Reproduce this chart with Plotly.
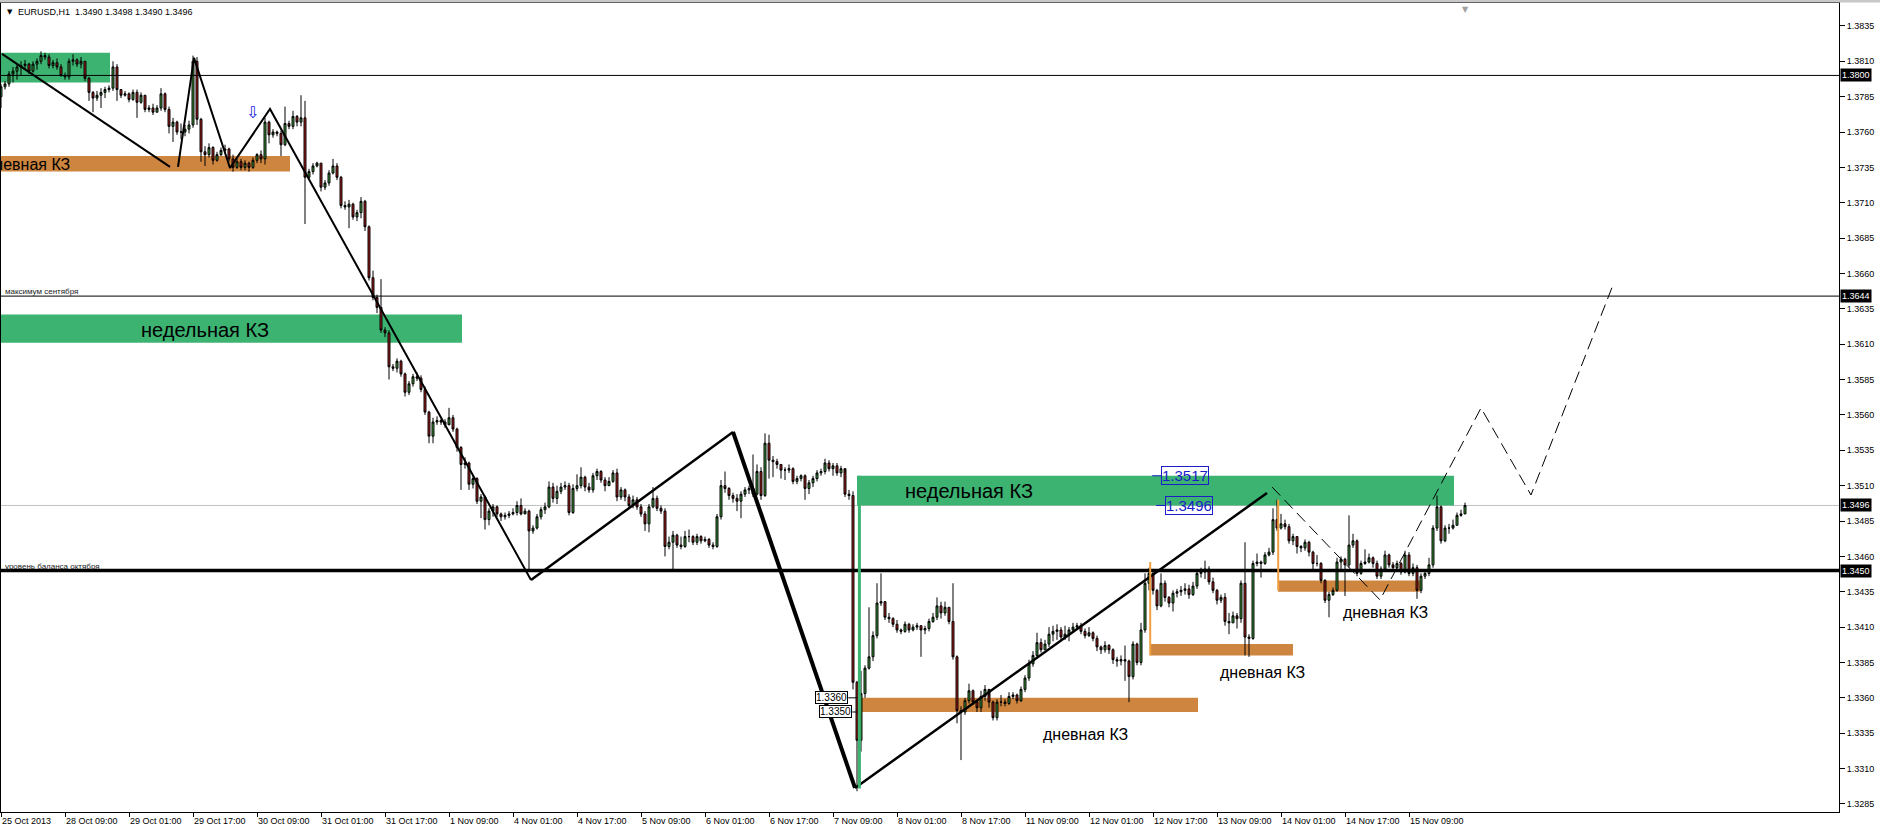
import plotly.graph_objects as go

# ---------------- data (prices in pips, 1 pip = 0.0001) ----------------
first_open = 13785
closes = [
13792,13794,13801,13803,13806,13807,13808,13803,13808,13810,13814,13813,13807,13809,13806,13800,
13799,13810,13811,13808,13810,13798,13788,13784,13786,13788,13790,13791,13806,13790,13786,13787,
13783,13788,13781,13786,13776,13777,13774,13777,13787,13776,13764,13767,13760,13760,13762,13765,
13810,13769,13746,13744,13749,13740,13744,13747,13748,13741,13735,13739,13735,13738,13735,13740,
13744,13741,13767,13758,13760,13759,13751,13766,13764,13771,13767,13770,13728,13732,13736,13738,
13721,13724,13731,13736,13728,13708,13707,13709,13700,13703,13711,13693,13657,13643,13636,13620,
13618,13594,13593,13598,13589,13576,13582,13587,13586,13578,13562,13545,13555,13556,13555,13553,
13558,13550,13537,13525,13526,13511,13515,13499,13502,13486,13492,13495,13490,13488,13489,13490,
13491,13496,13490,13492,13478,13480,13488,13493,13495,13509,13501,13506,13509,13510,13491,13508,
13510,13516,13509,13507,13517,13520,13514,13510,13513,13519,13502,13507,13502,13496,13500,13495,
13490,13483,13495,13501,13494,13492,13467,13470,13475,13468,13467,13474,13474,13470,13474,13471,
13472,13468,13467,13488,13510,13508,13503,13501,13499,13504,13507,13508,13504,13520,13503,13540,
13528,13527,13525,13521,13521,13522,13513,13515,13517,13508,13512,13515,13519,13520,13526,13522,
13524,13519,13522,13504,13503,13371,13330,13363,13381,13389,13404,13427,13428,13417,13416,13412,
13408,13407,13412,13408,13410,13411,13408,13409,13414,13417,13425,13420,13424,13414,13389,13351,
13350,13358,13365,13357,13353,13361,13366,13357,13346,13357,13357,13356,13361,13362,13358,13366,
13374,13384,13390,13399,13394,13398,13405,13407,13408,13403,13405,13408,13410,13411,13407,13404,
13406,13402,13396,13394,13397,13394,13387,13386,13387,13386,13375,13398,13385,13408,13441,13448,
13436,13425,13441,13431,13427,13434,13435,13436,13437,13433,13439,13448,13449,13451,13442,13436,
13429,13431,13414,13413,13418,13416,13441,13403,13402,13455,13456,13455,13461,13463,13486,13480,
13483,13481,13471,13474,13467,13466,13470,13463,13455,13455,13443,13429,13433,13436,13456,13458,
13454,13468,13471,13448,13455,13456,13459,13455,13446,13451,13461,13454,13452,13455,13449,13461,
13448,13452,13436,13446,13448,13454,13480,13495,13471,13480,13480,13482,13489,13490,13496]
highs = [
13794,13796,13803,13806,13808,13810,13811,13809,13810,13812,13817,13816,13815,13811,13812,13808,
13802,13812,13815,13812,13813,13810,13799,13789,13789,13791,13792,13793,13810,13808,13790,13789,
13788,13790,13790,13788,13786,13779,13780,13779,13791,13788,13778,13770,13768,13766,13765,13768,
13814,13813,13770,13750,13752,13750,13746,13749,13751,13749,13744,13741,13741,13740,13739,13742,
13745,13747,13770,13768,13762,13761,13761,13778,13768,13775,13772,13786,13782,13734,13738,13739,
13738,13726,13733,13741,13738,13729,13711,13712,13710,13705,13714,13712,13694,13662,13645,13656,
13622,13620,13596,13600,13599,13590,13584,13589,13590,13588,13580,13563,13558,13559,13557,13557,
13565,13560,13551,13538,13530,13527,13517,13516,13504,13503,13494,13497,13496,13491,13491,13492,
13494,13499,13501,13494,13493,13482,13490,13495,13498,13513,13512,13510,13512,13513,13512,13511,
13518,13523,13517,13512,13519,13522,13521,13516,13516,13521,13522,13509,13508,13504,13503,13502,
13497,13492,13497,13509,13503,13496,13494,13474,13478,13476,13474,13478,13479,13475,13476,13475,
13474,13473,13470,13490,13514,13520,13509,13505,13504,13506,13509,13510,13532,13525,13523,13547,
13546,13531,13529,13525,13523,13525,13523,13517,13518,13518,13514,13517,13521,13522,13529,13528,
13526,13526,13524,13519,13507,13506,13372,13379,13383,13424,13407,13441,13448,13428,13420,13417,
13415,13409,13414,13413,13412,13413,13411,13411,13416,13420,13431,13428,13428,13424,13441,13390,
13354,13360,13370,13366,13358,13365,13369,13361,13358,13359,13362,13359,13364,13364,13363,13368,
13376,13387,13393,13406,13402,13401,13410,13411,13412,13410,13411,13410,13413,13413,13413,13409,
13410,13407,13404,13397,13400,13398,13395,13389,13390,13397,13387,13400,13399,13413,13448,13452,
13449,13437,13448,13443,13432,13436,13437,13439,13441,13440,13442,13451,13452,13457,13453,13445,
13437,13433,13434,13420,13421,13420,13443,13470,13405,13457,13462,13457,13463,13466,13494,13500,
13490,13486,13483,13476,13474,13468,13472,13471,13464,13461,13456,13444,13435,13438,13459,13460,
13459,13489,13476,13472,13457,13465,13462,13460,13457,13453,13464,13462,13456,13457,13456,13464,
13463,13455,13454,13448,13450,13459,13482,13503,13496,13482,13483,13486,13491,13493,13498]
lows = [
13777,13790,13792,13795,13797,13800,13804,13801,13802,13804,13808,13811,13805,13805,13804,13799,
13797,13797,13807,13806,13805,13796,13782,13774,13782,13777,13784,13788,13789,13782,13784,13785,
13781,13782,13770,13780,13774,13774,13772,13774,13775,13774,13759,13753,13758,13755,13757,13759,
13763,13765,13739,13736,13742,13737,13739,13743,13745,13739,13732,13734,13733,13733,13732,13734,
13738,13738,13737,13752,13756,13757,13743,13750,13762,13762,13764,13764,13695,13727,13730,13735,
13718,13719,13722,13730,13726,13706,13705,13692,13698,13697,13699,13690,13655,13641,13632,13618,
13615,13585,13591,13590,13587,13573,13574,13580,13584,13576,13560,13540,13540,13553,13553,13551,
13554,13548,13534,13507,13522,13507,13508,13497,13487,13479,13482,13488,13488,13485,13486,13487,
13489,13489,13489,13490,13449,13476,13479,13486,13490,13494,13498,13497,13504,13507,13489,13490,
13506,13508,13506,13505,13505,13514,13512,13506,13510,13512,13499,13500,13499,13494,13494,13493,
13488,13478,13477,13494,13492,13490,13460,13465,13450,13466,13465,13466,13470,13468,13468,13469,
13470,13466,13465,13466,13486,13505,13500,13498,13492,13487,13502,13504,13502,13503,13500,13502,
13515,13516,13522,13515,13514,13519,13511,13511,13513,13500,13504,13509,13513,13517,13518,13520,
13517,13517,13516,13502,13500,13366,13294,13322,13360,13380,13386,13402,13425,13415,13413,13410,
13406,13405,13406,13406,13407,13408,13389,13405,13407,13413,13415,13416,13418,13412,13387,13342,
13316,13348,13356,13355,13350,13350,13358,13353,13344,13344,13354,13354,13355,13359,13356,13357,
13364,13372,13382,13388,13392,13394,13396,13400,13401,13401,13401,13400,13406,13408,13405,13402,
13403,13400,13393,13391,13392,13391,13384,13382,13383,13372,13357,13373,13383,13383,13406,13436,
13433,13422,13424,13428,13424,13421,13431,13432,13433,13430,13432,13437,13445,13444,13440,13434,
13426,13427,13411,13405,13413,13409,13413,13390,13389,13401,13453,13445,13454,13460,13461,13478,
13479,13479,13469,13468,13462,13463,13464,13460,13450,13453,13441,13427,13417,13432,13435,13451,
13432,13452,13466,13446,13447,13454,13455,13452,13444,13444,13450,13452,13450,13451,13447,13448,
13446,13446,13430,13434,13444,13446,13452,13478,13469,13470,13476,13479,13482,13488,13490]

PIP = 10000.0
tick_idx = list(range(0, 353, 16))
tick_text = ["25 Oct 2013", "28 Oct 09:00", "29 Oct 01:00", "29 Oct 17:00", "30 Oct 09:00",
             "31 Oct 01:00", "31 Oct 17:00", "1 Nov 09:00", "4 Nov 01:00", "4 Nov 17:00",
             "5 Nov 09:00", "6 Nov 01:00", "6 Nov 17:00", "7 Nov 09:00", "8 Nov 01:00",
             "8 Nov 17:00", "11 Nov 09:00", "12 Nov 01:00", "12 Nov 17:00", "13 Nov 09:00",
             "14 Nov 01:00", "14 Nov 17:00", "15 Nov 09:00"]
price_ticks = [1.3285 + 0.0025 * k for k in range(23)]

# horizontal levels
level_high = 1.3800
level_sept = 1.3644
level_balance = 1.3450
level_bid = 1.3496

# zones: (x0, x1, y0, y1, kind)
zones = [
    (-1, 27.25, 1.3795, 1.3816, "green"),
    (-2, 72.25, 1.3732, 1.3743, "orange"),
    (-1, 115.25, 1.3611, 1.3631, "green"),
    (214, 363.25, 1.3496, 1.3517, "green"),
    (214, 299.25, 1.3350, 1.3360, "orange"),
    (287.25, 323.0, 1.3390, 1.3398, "orange"),
    (319.25, 354.75, 1.3435, 1.3443, "orange"),
]
# zigzag legs: (x list, y list, width)
legs = [
    ([0.25, 42.25], [1.38152, 1.37353], 2),
    ([44.25, 48.25, 57.25, 67.25, 132.5], [1.37353, 1.38124, 1.37346, 1.37763, 1.34433], 2),
    ([132.5, 183.0], [1.34433, 1.35480], 2.5),
    ([183.0, 213.5], [1.35480, 1.32963], 4),
    ([213.5, 316.5], [1.32963, 1.35048], 2.5),
]
forecast_x = [317.75, 344.75, 370.0, 382.5, 403.0]
forecast_y = [1.35091, 1.34292, 1.35649, 1.35034, 1.36519]

GREEN = "#3cb371"
ORANGE = "#cd853f"

x = list(range(len(closes)))
opens = [first_open] + closes[:-1]

fig = go.Figure()
fig.add_trace(go.Candlestick(
    x=x,
    open=[v / PIP for v in opens],
    high=[v / PIP for v in highs],
    low=[v / PIP for v in lows],
    close=[v / PIP for v in closes],
    increasing=dict(line=dict(color="black", width=1), fillcolor="#3e9e3e"),
    decreasing=dict(line=dict(color="black", width=1), fillcolor="#b01e1e"),
    whiskerwidth=0, showlegend=False, hoverinfo="skip"))

for lx, ly, w in legs:
    fig.add_trace(go.Scatter(x=lx, y=ly, mode="lines", line=dict(color="black", width=w),
                             showlegend=False, hoverinfo="skip"))
fig.add_trace(go.Scatter(x=forecast_x, y=forecast_y, mode="lines",
                         line=dict(color="black", width=1, dash="12px,6px"),
                         showlegend=False, hoverinfo="skip"))

shapes = []
for x0, x1, y0, y1, kind in zones:
    shapes.append(dict(type="rect", xref="x", yref="y", x0=x0, x1=x1, y0=y0, y1=y1,
                       fillcolor=GREEN if kind == "green" else ORANGE, line=dict(width=0),
                       layer="below"))
# horizontal lines
shapes.append(dict(type="line", xref="paper", yref="y", x0=0, x1=1, y0=level_bid, y1=level_bid,
                   line=dict(color="#c0c0c0", width=1), layer="below"))
for lv, w in [(level_high, 1), (level_sept, 1), (level_balance, 3.5)]:
    shapes.append(dict(type="line", xref="paper", yref="y", x0=0, x1=1, y0=lv, y1=lv,
                       line=dict(color="black", width=w), layer="above"))
# vertical edge lines
shapes.append(dict(type="line", xref="x", yref="y", x0=214.6, x1=214.6, y0=1.3296, y1=1.3517,
                   line=dict(color=GREEN, width=3), layer="above"))
shapes.append(dict(type="line", xref="x", yref="y", x0=287.3, x1=287.3, y0=1.3390, y1=1.3456,
                   line=dict(color="#f0a040", width=2), layer="above"))
shapes.append(dict(type="line", xref="x", yref="y", x0=319.3, x1=319.3, y0=1.3436, y1=1.3500,
                   line=dict(color="#f0a040", width=2), layer="above"))
# label connectors
shapes.append(dict(type="line", xref="x", yref="y", x0=211.8, x1=214, y0=1.3360, y1=1.3360,
                   line=dict(color="black", width=1)))
shapes.append(dict(type="line", xref="x", yref="y", x0=212.8, x1=214, y0=1.3350, y1=1.3350,
                   line=dict(color="black", width=1)))
shapes.append(dict(type="line", xref="x", yref="y", x0=287.8, x1=290, y0=1.3517, y1=1.3517,
                   line=dict(color="#1c1cc8", width=1)))
shapes.append(dict(type="line", xref="x", yref="y", x0=288.8, x1=291, y0=1.3496, y1=1.3496,
                   line=dict(color="#1c1cc8", width=1)))
# top grey strip
shapes.append(dict(type="rect", xref="paper", yref="paper", x0=-0.01, x1=1.03,
                   y0=1 + 0.6 / 809, y1=1 + 3.5 / 809, fillcolor="#c8c8c8", line=dict(width=0)))

FONT = "Liberation Sans"
ann = []


def txt(xv, yv, s, size, color="black", xanchor="center", **kw):
    d = dict(x=xv, y=yv, xref="x", yref="y", text=s, showarrow=False,
             font=dict(family=FONT, size=size, color=color), xanchor=xanchor, yanchor="middle")
    d.update(kw)
    ann.append(d)


txt(51, 1.36201, "недельная КЗ", 20)
txt(242, 1.35060, "недельная КЗ", 20)
txt(17.75, 1.37370, "дневная КЗ", 16, xanchor="right")
txt(271, 1.33338, "дневная КЗ", 16)
txt(315.25, 1.33776, "дневная КЗ", 16)
txt(346, 1.34200, "дневная КЗ", 16)
ann.append(dict(x=62.75, y=1.37735, xref="x", yref="y", text="⇩", showarrow=False,
                font=dict(family="DejaVu Sans", size=16, color="#2020e0"),
                xanchor="center", yanchor="middle"))
# small object labels
txt(0.5, level_sept + 0.00030, "максимум сентября", 8, color="#222222", xanchor="left")
txt(0.5, level_balance + 0.00031, "уровень баланса октября", 8, color="#222222", xanchor="left")
# price labels on zone
for xv, yv, s in [(211.75, 1.3360, "1.3360"), (212.75, 1.3350, "1.3350")]:
    txt(xv, yv, s, 10, xanchor="right", bgcolor="white", bordercolor="black", borderwidth=1,
        borderpad=0)
for xv, yv, s in [(290, 1.3517, "1.3517"), (291, 1.3496, "1.3496")]:
    txt(xv, yv, s, 15, color="#1c1cc8", xanchor="left", bordercolor="#1c1cc8", borderwidth=1,
        borderpad=0)

# right-axis price boxes
for lv in [level_high, level_sept, level_bid, level_balance]:
    ann.append(dict(x=1, y=lv, xref="paper", yref="y", text="%.4f" % lv, showarrow=False,
                    xanchor="left", yanchor="middle", xshift=1, bgcolor="black",
                    font=dict(family=FONT, size=9, color="white"), borderpad=1))

# header
ann.append(dict(x=0, y=1, xref="paper", yref="paper", text="▼", showarrow=False, xanchor="left",
                yanchor="middle", xshift=4, yshift=-9, font=dict(family="DejaVu Sans", size=7,
                                                                 color="black")))
ann.append(dict(x=0, y=1, xref="paper", yref="paper",
                text="EURUSD,H1  1.3490 1.3498 1.3490 1.3496", showarrow=False, xanchor="left",
                yanchor="middle", xshift=15, yshift=-9, font=dict(family=FONT, size=9,
                                                                   color="black")))
ann.append(dict(x=366, y=1, xref="x", yref="paper", text="▼", showarrow=False, xanchor="center",
                yanchor="top", yshift=0, font=dict(family="DejaVu Sans", size=8, color="#a0a0a0")))

fig.update_layout(
    width=1880, height=830, template="none",
    margin=dict(l=1, r=41, t=3, b=18, pad=0),
    paper_bgcolor="white", plot_bgcolor="white",
    showlegend=False, shapes=shapes, annotations=ann,
    xaxis=dict(range=[0, 459.5], showgrid=False, zeroline=False, rangeslider=dict(visible=False),
               tickmode="array", tickvals=tick_idx, ticktext=tick_text, ticks="outside",
               ticklen=4, tickcolor="black", ticklabelposition="outside right",
               tickfont=dict(family=FONT, size=9, color="black"), showline=True,
               linecolor="black", linewidth=1, mirror=True, automargin=False, fixedrange=True),
    yaxis=dict(range=[1.32793, 1.38512], side="right", showgrid=False, zeroline=False,
               tickmode="array", tickvals=price_ticks, ticktext=["%.4f" % v for v in price_ticks],
               ticks="outside", ticklen=5, tickcolor="black",
               tickfont=dict(family=FONT, size=9, color="black"), showline=True,
               linecolor="black", linewidth=1, mirror=True, automargin=False, fixedrange=True),
)

fig.write_html("out.html", config={"displayModeBar": False},
               post_script="document.body.style.margin='0';document.body.style.overflow='hidden';")
